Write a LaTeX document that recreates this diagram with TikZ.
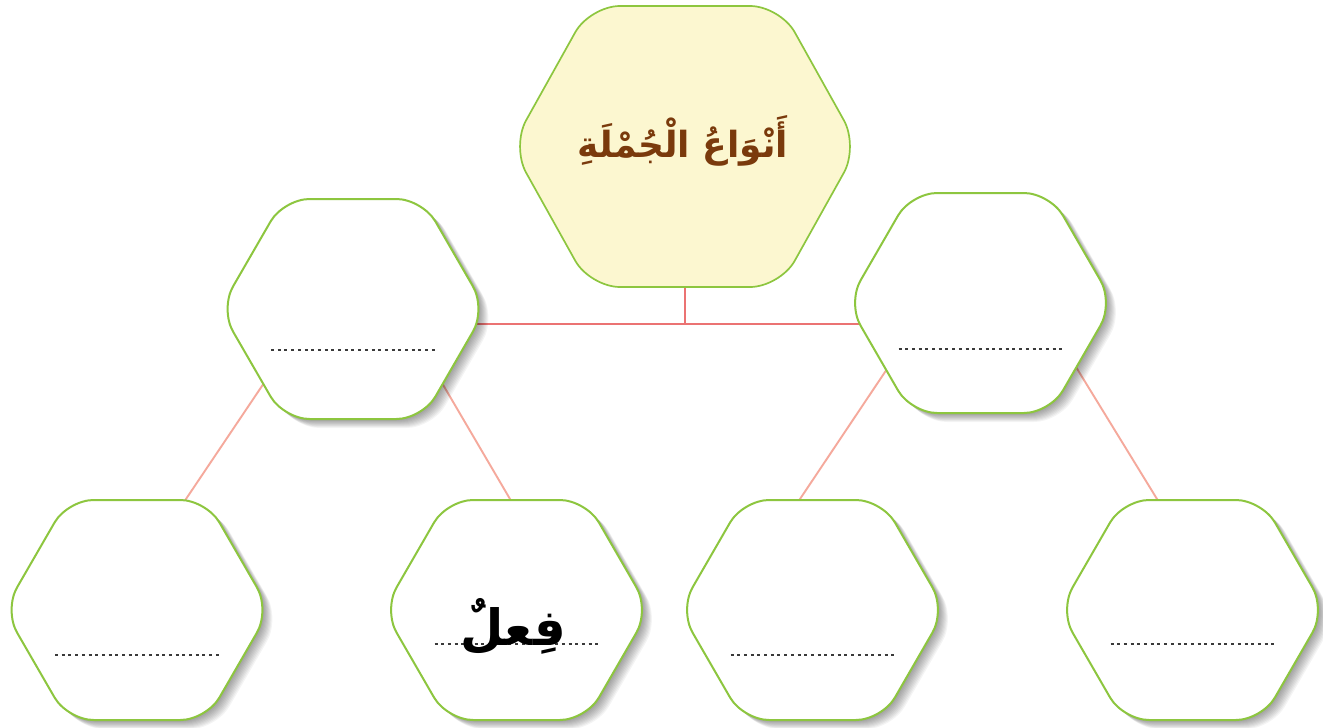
\documentclass[tikz,border=0pt]{standalone}
\usepackage{fontspec}
\newfontfamily\arabicfont[Script=Arabic]{DejaVu Sans}
\TeXXeTstate=1
\usetikzlibrary{calc}
\definecolor{hexgreen}{HTML}{8DC63F}
\definecolor{topfill}{HTML}{FCF7D0}
\definecolor{titlebrown}{HTML}{7A3A0C}
\definecolor{linkred}{HTML}{EB7373}
\definecolor{linkpink}{HTML}{F5A99C}
\definecolor{dotgray}{HTML}{3A3A3A}
\newcommand\hexdraw[3]{%
  \path[#1] (#2.west) -- ($(#2.north west)!#3!(#2.north east)$) -- ($(#2.north east)!#3!(#2.north west)$) -- (#2.east) -- ($(#2.south east)!#3!(#2.south west)$) -- ($(#2.south west)!#3!(#2.south east)$) -- cycle;}
\newcommand\hexshadow[2]{%
  \foreach \s in {1,...,10}{%
    \begin{scope}[transform canvas={xshift=\s pt, yshift=-0.9*\s pt}]
      \hexdraw{shadowlayer}{#1}{#2}
    \end{scope}}}
\tikzset{
  hexbox/.style={minimum width=266pt, minimum height=220pt, inner sep=0pt, outer sep=0pt},
  topbox/.style={minimum width=347pt, minimum height=281pt, inner sep=0pt, outer sep=0pt},
  hexwhite/.style={draw=hexgreen, line width=2pt, fill=white, rounded corners=26pt},
  shadowlayer/.style={fill=black, fill opacity=0.045, rounded corners=26pt},
  hextop/.style={draw=hexgreen, line width=1.7pt, fill=topfill, rounded corners=30pt},
  trunk/.style={draw=linkred, line width=1.9pt},
  branch/.style={draw=linkpink, line width=1.9pt, shorten <=-4pt, shorten >=-4pt},
  dotline/.style={draw=dotgray, line width=2.6pt, dash pattern=on 3pt off 3.7pt},
  arab/.style={font={\arabicfont\bfseries\fontsize{#1}{#1}\selectfont}},
}
\begin{document}
\begin{tikzpicture}[x=1pt,y=-1pt]
\fill[white] (0,0) rectangle (1323,728);
\useasboundingbox (0,0) rectangle (1323,728);
% hexagon frames (invisible boxes)
\node[topbox] (top) at (685,146.5) {};
\node[hexbox] (ml) at (353,309) {};
\node[hexbox] (mr) at (980.5,303) {};
\node[hexbox] (b1) at (137,610) {};
\node[hexbox] (b2) at (516.5,610) {};
\node[hexbox] (b3) at (812.5,610) {};
\node[hexbox] (b4) at (1192.5,610) {};
% connector end points on the borders
\coordinate (j) at (685,324);
\coordinate (p1) at (264,383);  \coordinate (q1) at (186,499);
\coordinate (p2) at (442,383);  \coordinate (q2) at (510,499);
\coordinate (p3) at (887,369);  \coordinate (q3) at (800,499);
\coordinate (p4) at (1076,367); \coordinate (q4) at (1157,499);
% connectors
\draw[trunk] (top.south) -- (j);
\draw[trunk] (ml.center |- j) -- (mr.center |- j);
\draw[branch] (p1) -- (q1);
\draw[branch] (p2) -- (q2);
\draw[branch] (p3) -- (q3);
\draw[branch] (p4) -- (q4);
% shadows
\hexshadow{ml}{0.239}
\hexshadow{mr}{0.239}
\hexshadow{b1}{0.239}
\hexshadow{b2}{0.239}
\hexshadow{b3}{0.239}
\hexshadow{b4}{0.239}
% hexagons
\hexdraw{hextop}{top}{0.226}
\hexdraw{hexwhite}{ml}{0.239}
\hexdraw{hexwhite}{mr}{0.239}
\hexdraw{hexwhite}{b1}{0.239}
\hexdraw{hexwhite}{b2}{0.239}
\hexdraw{hexwhite}{b3}{0.239}
\hexdraw{hexwhite}{b4}{0.239}
% dotted answer lines
\draw[dotline] ($(ml.center)+(-82,41)$) -- ($(ml.center)+(82,41)$);
\draw[dotline] ($(mr.center)+(-82,46)$) -- ($(mr.center)+(82,46)$);
\draw[dotline] ($(b1.center)+(-82,45)$) -- ($(b1.center)+(82,45)$);
\draw[dotline] ($(b2.center)+(-82,34)$) -- ($(b2.center)+(82,34)$);
\draw[dotline] ($(b3.center)+(-82,45)$) -- ($(b3.center)+(82,45)$);
\draw[dotline] ($(b4.center)+(-82,34)$) -- ($(b4.center)+(82,34)$);
% texts
\node[arab=36, text=titlebrown] (title) at (683,141) {\beginR أَنْوَاعُ الْجُمْلَةِ\endR};
\node[arab=50, text=black, anchor=base] (fil) at (513,645) {\beginR فِعلٌ\endR};
\end{tikzpicture}
\end{document}
